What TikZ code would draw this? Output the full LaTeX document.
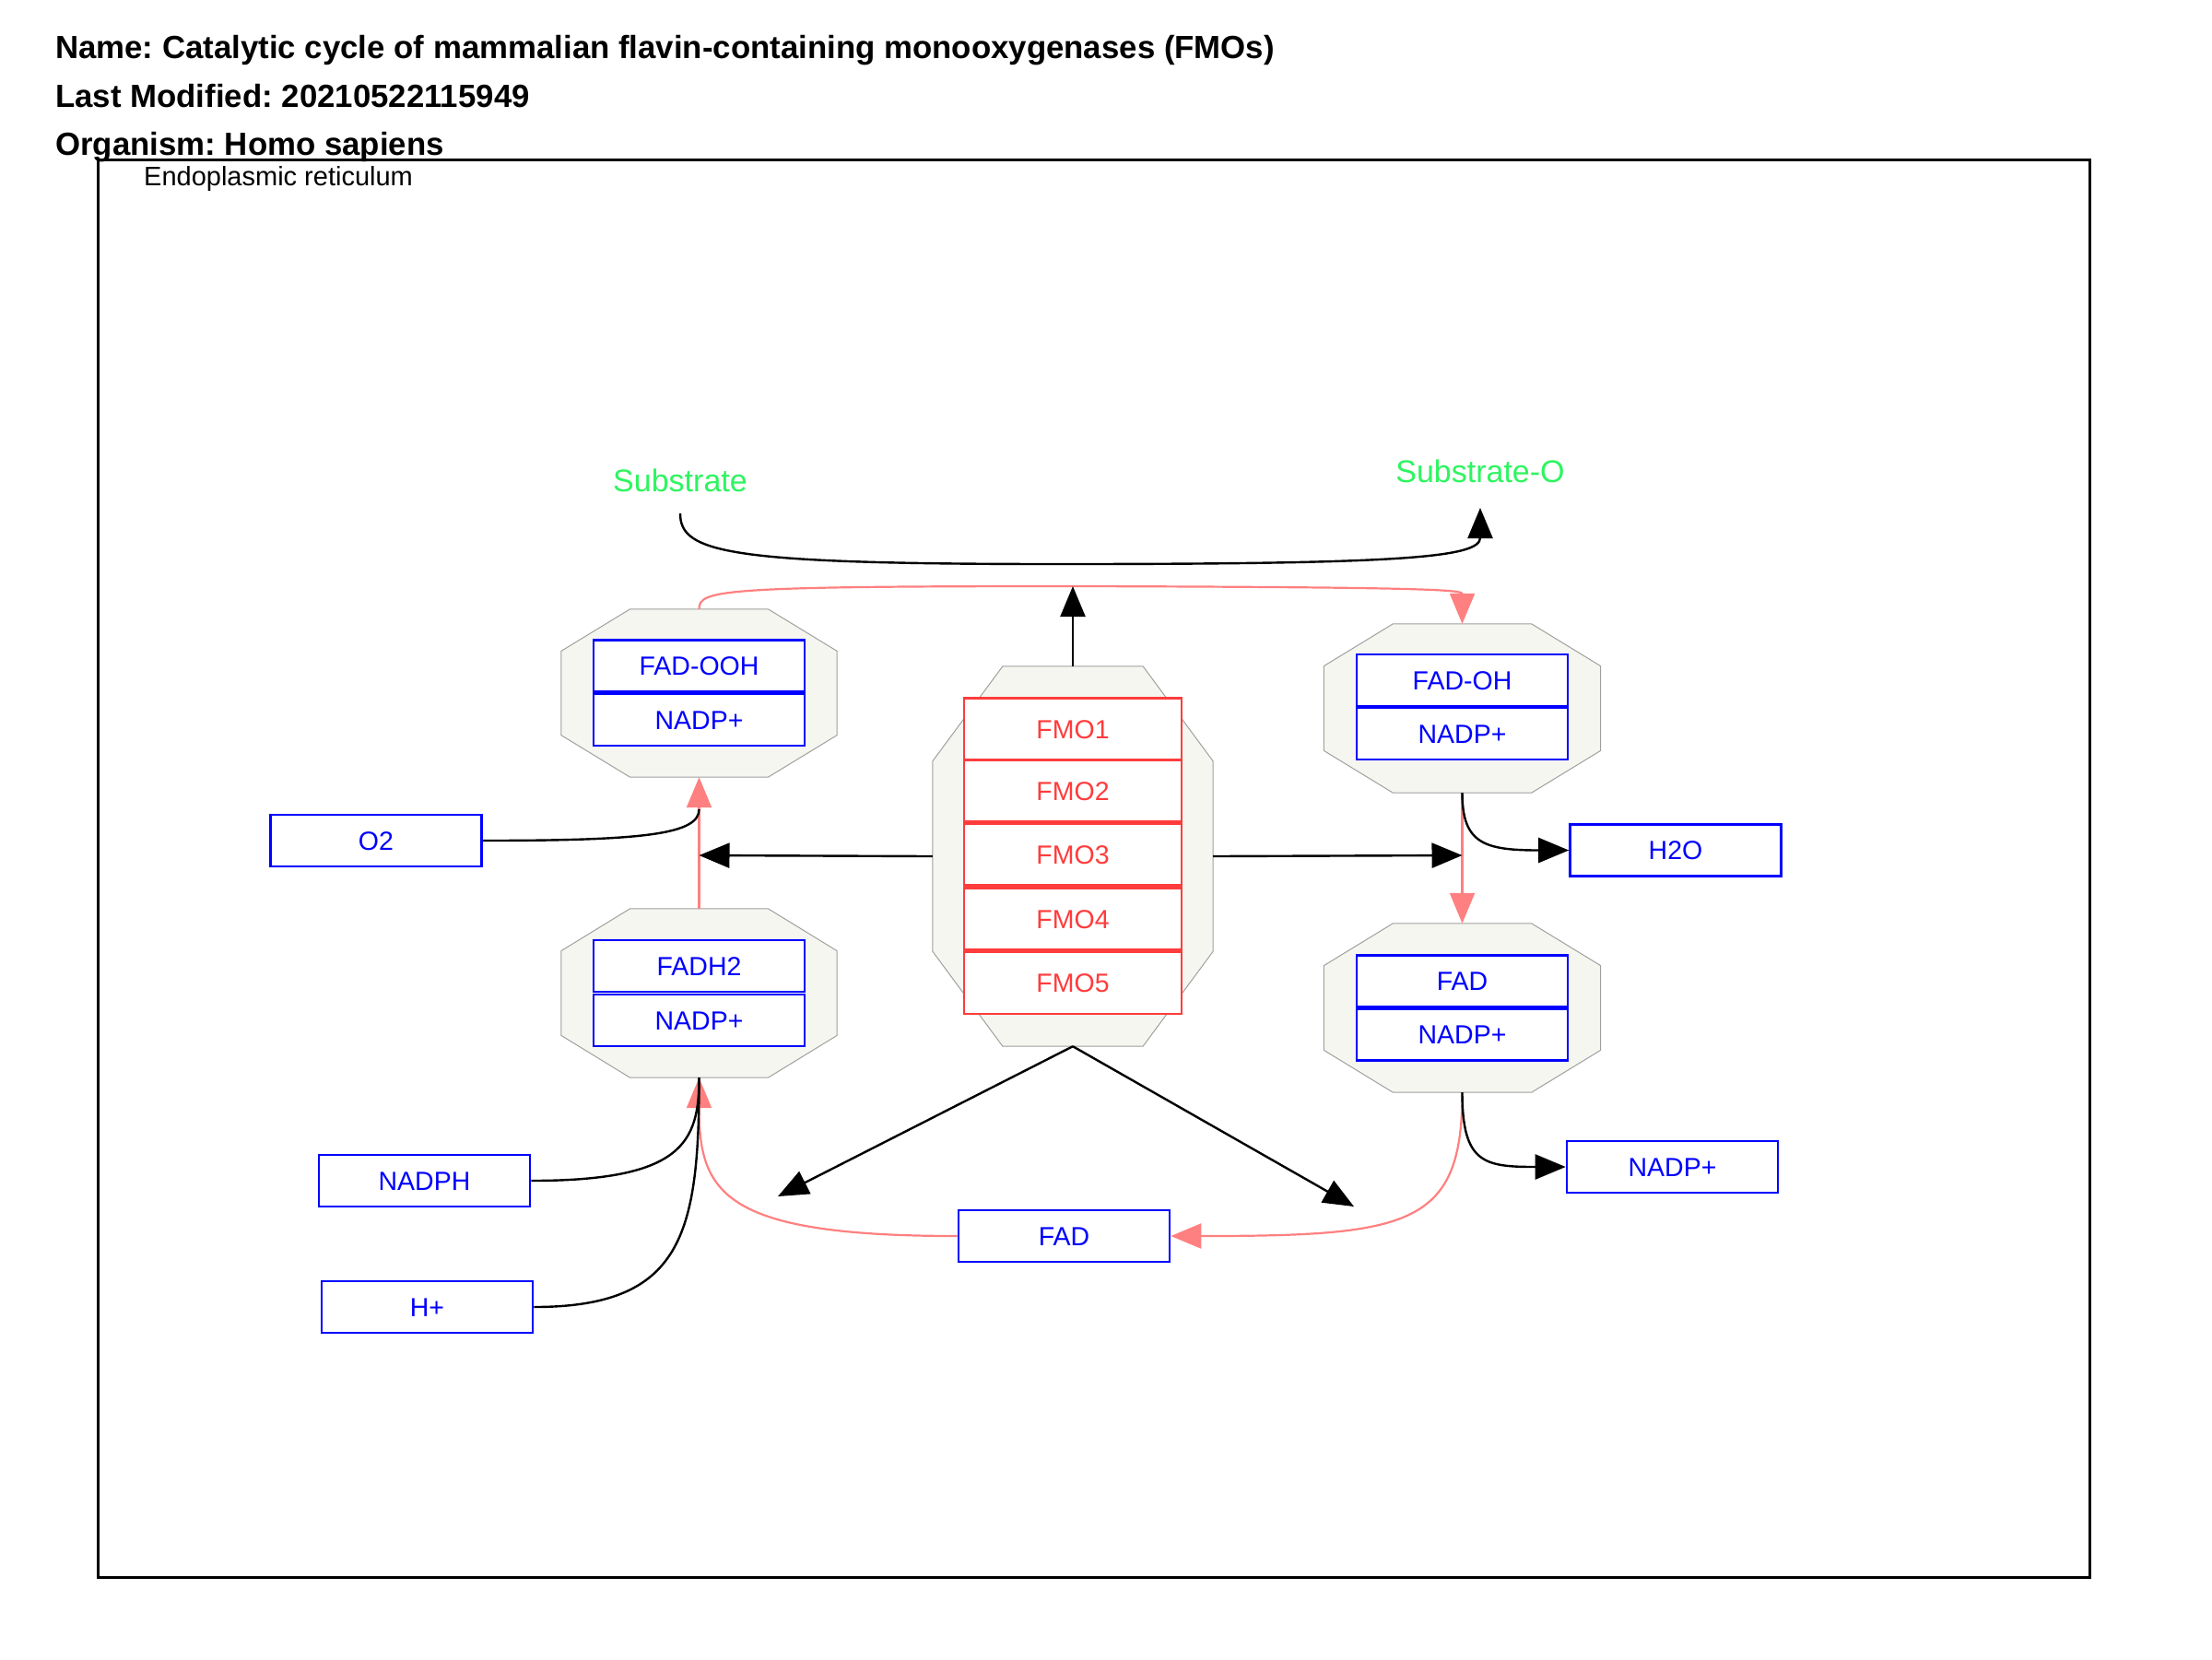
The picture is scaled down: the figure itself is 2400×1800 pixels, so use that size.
\documentclass[tikz,border=0pt]{standalone}
\usepackage{fontspec}
\setmainfont{Liberation Sans}
\usetikzlibrary{arrows.meta,calc}
\frenchspacing
\definecolor{boxblue}{RGB}{0,0,255}
\definecolor{fmored}{RGB}{255,60,60}
\definecolor{pinkline}{RGB}{255,128,128}
\definecolor{labgreen}{RGB}{45,245,95}
\definecolor{octfill}{RGB}{246,246,240}
\definecolor{octdraw}{RGB}{160,160,160}
\newcommand{\octagonpath}[1]{%
  \path[octo] ($(#1.north west)!0.25!(#1.north east)$) -- ($(#1.north west)!0.75!(#1.north east)$)
   -- ($(#1.north east)!0.25!(#1.south east)$) -- ($(#1.north east)!0.75!(#1.south east)$)
   -- ($(#1.south east)!0.25!(#1.south west)$) -- ($(#1.south east)!0.75!(#1.south west)$)
   -- ($(#1.south west)!0.25!(#1.north west)$) -- ($(#1.south west)!0.75!(#1.north west)$) -- cycle;}
\tikzset{
  complexbox/.style={draw=none,inner sep=0pt,minimum width=#1},
  octo/.style={fill=octfill,draw=octdraw,line width=1pt},
  metab/.style={draw=boxblue,line width=2.6pt,fill=white,text=boxblue,inner sep=0pt,
    minimum width=229pt,minimum height=56pt,font=\fontsize{28.5}{33}\selectfont,text height=20.4pt,text depth=0pt},
  gene/.style={draw=fmored,line width=2.6pt,fill=white,text=fmored,inner sep=0pt,
    minimum width=236pt,minimum height=67pt,font=\fontsize{28.5}{33}\selectfont,text height=20.4pt,text depth=0pt},
  greenlab/.style={text=labgreen,inner sep=0pt,font=\fontsize{34}{40}\selectfont,text height=24.3pt,text depth=0pt},
  titletext/.style={anchor=base west,inner sep=0pt,font=\fontsize{34.8}{40}\selectfont\bfseries},
  blk/.style={draw=black,line width=2.4pt,-{Triangle[length=33pt,width=27pt]}},
  blkplain/.style={draw=black,line width=2.4pt},
  pnk/.style={draw=pinkline,line width=2.2pt,-{Triangle[length=33pt,width=27pt]}},
}
\begin{document}
\begin{tikzpicture}[x=1pt,y=-1pt]
\useasboundingbox[fill=white] (0,0) rectangle (2400,1800);
% frame
\node[draw=black,line width=3pt,inner sep=0pt,minimum width=2161pt,minimum height=1538pt] (er) at (1186.5,942) {};
\node[anchor=base west,inner sep=0pt,font=\fontsize{29}{34}\selectfont] (erlab) at (156,201) {Endoplasmic reticulum};
% titles
\node[titletext] (t1) at (60,63.5) {Name: Catalytic cycle of mammalian flavin-containing monooxygenases (FMOs)};
\node[titletext] (t2) at (60,116.5) {Last Modified: 20210522115949};
\node[titletext] (t3) at (60,168.5) {Organism: Homo sapiens};
% complexes
\node[complexbox=299pt,minimum height=182pt] (cOOH) at (758.5,752) {};
\node[complexbox=304pt,minimum height=412pt] (cFMO) at (1164,929) {};
\node[complexbox=300pt,minimum height=183pt] (cOH) at (1586.5,768.5) {};
\node[complexbox=299pt,minimum height=183pt] (cH2) at (758.5,1077.5) {};
\node[complexbox=300pt,minimum height=183pt] (cFAD) at (1586.5,1093.5) {};
\octagonpath{cOOH}
\octagonpath{cFMO}
\octagonpath{cOH}
\octagonpath{cH2}
\octagonpath{cFAD}
% complex members
\node[metab] (fadooh) at (758.5,722.5) {FAD-OOH};
\node[metab] (nadp1) at (758.5,781) {NADP+};
\node[metab] (fadoh) at (1586.5,738) {FAD-OH};
\node[metab] (nadp2) at (1586.5,796) {NADP+};
\node[metab] (fadh2) at (758.5,1048) {FADH2};
\node[metab] (nadp3) at (758.5,1107) {NADP+};
\node[metab] (fadc) at (1586.5,1064.5) {FAD};
\node[metab] (nadp4) at (1586.5,1122.5) {NADP+};
\node[gene] (fmo1) at (1164,791) {FMO1};
\node[gene] (fmo2) at (1164,858) {FMO2};
\node[gene] (fmo3) at (1164,927) {FMO3};
\node[gene] (fmo4) at (1164,997) {FMO4};
\node[gene] (fmo5) at (1164,1066.5) {FMO5};
% single metabolites
\node[metab] (o2) at (408,912) {O2};
\node[metab] (h2o) at (1818,922.5) {H2O};
\node[metab] (nadph) at (460.5,1281) {NADPH};
\node[metab] (hplus) at (463.5,1418) {H+};
\node[metab] (fadb) at (1154.5,1341) {FAD};
\node[metab] (nadpr) at (1814.5,1266) {NADP+};
\node[greenlab] (sub) at (738,521) {Substrate};
\node[greenlab] (subo) at (1606,511.5) {Substrate-O};
% coordinates
\coordinate (sstart) at (738,557);
\coordinate (send) at (1606,551);
\coordinate (pinktop) at (1164,636);
\coordinate (o2join) at (758.5,878);
\coordinate (leftjoin) at (758.5,928);
\coordinate (rightjoin) at (1586.5,928);
\coordinate (ohout) at (1586.5,860);
\coordinate (fadout) at (1586.5,1185);
\coordinate (lowl) at (844,1298);
\coordinate (lowr) at (1469,1309);
% pink (main conversion) lines
\draw[pnk] (cOOH.north) .. controls (758.5,640) and (780,636) .. (pinktop) .. controls (1555,637) and (1586.5,640) .. (cOH.north);
\draw[pnk] (cH2.north) -- (cOOH.south);
\draw[pnk] (cOH.south) -- (cFAD.north);
\draw[pnk] (cFAD.south) .. controls (1586.5,1330) and (1530,1341) .. (fadb.east);
\draw[pnk] (fadb.west) .. controls (785,1341) and (758.5,1295) .. (cH2.south);
% black lines
\draw[blk] (sstart) .. controls (738,600) and (790,612) .. (1150,612) .. controls (1520,612) and (1606,605) .. (send);
\draw[blk] (cFMO.north) -- (pinktop);
\draw[blkplain] (o2.east) .. controls (700,912) and (758.5,905) .. (o2join);
\draw[blk] (cFMO.west) -- (leftjoin);
\draw[blk] (cFMO.east) -- (rightjoin);
\draw[blk] (ohout) .. controls (1586.5,915) and (1610,922.5) .. (h2o.west);
\draw[blk] (fadout) .. controls (1586.5,1262) and (1610,1266) .. (nadpr.west);
\draw[blk] (cFMO.south) -- (lowl);
\draw[blk] (cFMO.south) -- (lowr);
\draw[blkplain] (nadph.east) .. controls (740,1281) and (758.5,1240) .. (cH2.south);
\draw[blkplain] (hplus.east) .. controls (740,1418) and (758.5,1340) .. (cH2.south);
\end{tikzpicture}
\end{document}
